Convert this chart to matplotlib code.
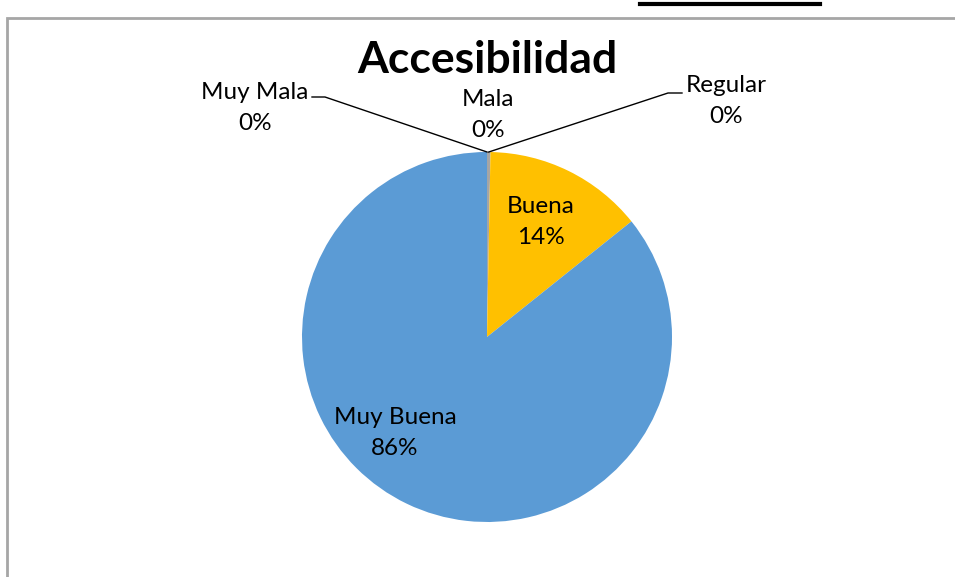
import matplotlib.pyplot as plt
import numpy as np

# chart data
categories = ["Muy Mala", "Mala", "Regular", "Buena", "Muy Buena"]
values = [0, 0, 0.3, 14, 86]
colors = ["#4472C4", "#ED7D31", "#A5A5A5", "#FFC000", "#5B9BD5"]
title = "Accesibilidad"

W, H = 955, 577
CX, CY, R = 487, H - 337, 185
FONT = "Lato"

# label centres in pixels (y measured from top)
label_xy = {
    "Muy Mala": (255, 108),
    "Mala": (488, 115),
    "Regular": (726, 101),
    "Buena": (541, 222),
    "Muy Buena": (395, 433),
}
# leader line elbows: (text end, elbow)
leader_xy = {
    "Muy Mala": [(312, 97), (325, 97)],
    "Regular": [(682, 93), (668, 93)],
}

fig = plt.figure(figsize=(W / 100, H / 100), dpi=100)
ax = fig.add_axes([0, 0, 1, 1])
ax.axis("off")

wedges, _ = ax.pie(values, colors=colors, startangle=90, counterclock=False,
                   center=(CX, CY), radius=R, wedgeprops=dict(linewidth=0))
ax.set_xlim(0, W)
ax.set_ylim(0, H)
ax.set_aspect("auto")

total = sum(values)
for cat, v, w in zip(categories, values, wedges):
    pct = round(100 * v / total)
    x, y = label_xy[cat]
    ax.text(x, H - y, f"{cat}\n{pct}%", ha="center", va="center",
            fontsize=17.5, family=FONT, color="black", linespacing=1.55)
    if cat in leader_xy:
        mid = np.deg2rad((w.theta1 + w.theta2) / 2)
        px, py = CX + R * np.cos(mid), CY + R * np.sin(mid)
        (x0, y0), (x1, y1) = leader_xy[cat]
        ax.plot([x0, x1, px], [H - y0, H - y1, py], color="black", lw=1.0)

ax.text(487, H - 60, title, ha="center", va="center", fontsize=32,
        fontweight="bold", family=FONT)

# chart frame and the underline from the surrounding document
ax.plot([7, 7, W], [0, H - 18, H - 18], color="#A6A6A6", lw=2, solid_joinstyle="miter")
ax.plot([640, 820], [H - 4, H - 4], color="black", lw=3)

fig.savefig("out.png", dpi=100)
